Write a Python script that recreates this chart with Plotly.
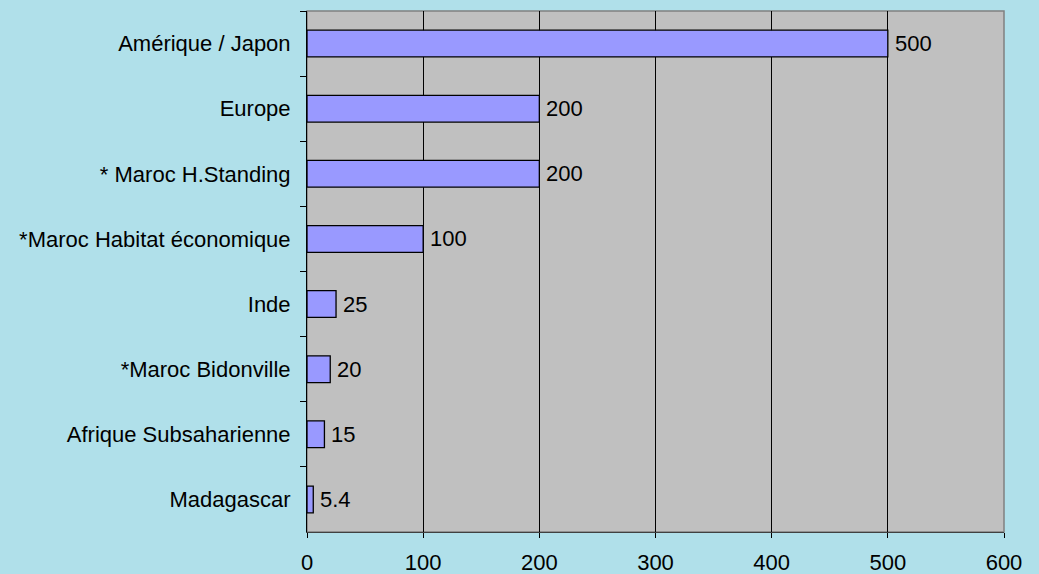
import plotly.graph_objects as go

categories = ["Amérique / Japon", "Europe", "* Maroc H.Standing", "*Maroc Habitat économique",
              "Inde", "*Maroc Bidonville", "Afrique Subsaharienne", "Madagascar"]
values = [500, 200, 200, 100, 25, 20, 15, 5.4]
value_labels = ["500", "200", "200", "100", "25", "20", "15", "5.4"]
x_ticks = [0, 100, 200, 300, 400, 500, 600]

font = dict(family="Liberation Sans, Arial, sans-serif", size=22, color="black")

fig = go.Figure(go.Bar(
    y=categories, x=values, orientation="h",
    marker=dict(color="#9999ff", line=dict(color="black", width=1.3)),
))

annotations = [dict(x=v, y=c, text=t, xref="x", yref="y", xanchor="left", yanchor="middle",
                    xshift=5, showarrow=False, font=font)
               for c, v, t in zip(categories, values, value_labels)]

fig.update_layout(
    width=1039, height=574,
    margin=dict(l=307, r=35, t=11, b=42),
    paper_bgcolor="#b0e0ea", plot_bgcolor="#c0c0c0",
    font=font, bargap=0.59, showlegend=False,
    annotations=annotations,
    xaxis=dict(range=[0, 600], tickvals=x_ticks, showgrid=True, gridcolor="black", gridwidth=1,
               ticks="outside", ticklen=5, tickcolor="black", showline=True, linecolor="#404040",
               linewidth=1, zeroline=False, ticklabelstandoff=6, automargin=False, fixedrange=True),
    yaxis=dict(autorange="reversed", ticks="outside", tickson="boundaries", ticklen=6,
               tickcolor="black", showline=True, linecolor="black", linewidth=1,
               ticklabelstandoff=11, showgrid=False, automargin=False),
    shapes=[dict(type="rect", xref="paper", yref="paper", x0=0, x1=1, y0=0, y1=1,
                 line=dict(color="#808080", width=1.5), fillcolor="rgba(0,0,0,0)", layer="below")],
)

fig.write_html("out.html")
